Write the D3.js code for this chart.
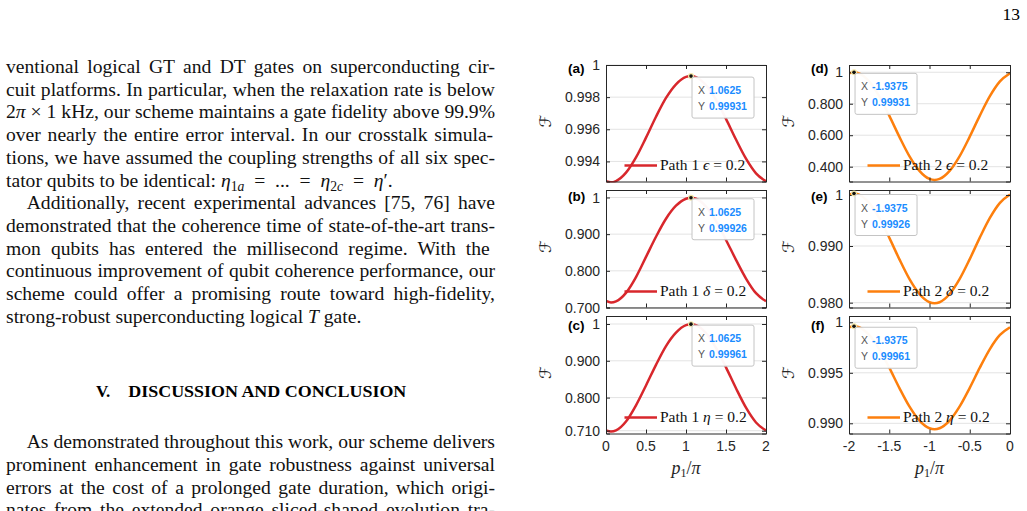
<!DOCTYPE html>
<html>
<head>
<meta charset="utf-8">
<script src="https://cdn.jsdelivr.net/npm/d3@7"></script>
<style>
  body { margin: 0; background: #fff; }
  svg { display: block; }
</style>
</head>
<body>
<div id="page"></div>
<script>
// values (F vs p1/pi)
var pRed = [0, 0.0625, 0.125, 0.25, 0.375, 0.5, 0.625, 0.75, 0.875, 1, 1.0625, 1.125, 1.25, 1.375, 1.5, 1.625, 1.75, 1.875, 2];
var pOrange = [-2, -1.9375, -1.875, -1.75, -1.625, -1.5, -1.375, -1.25, -1.125, -1, -0.9375, -0.875, -0.75, -0.625, -0.5, -0.375, -0.25, -0.125, 0];

var fidA = [0.99277, 0.99270, 0.99278, 0.99330, 0.99425, 0.99548, 0.99678, 0.99795, 0.99880, 0.99926, 0.99931, 0.99925, 0.99875, 0.99784, 0.99665, 0.99536, 0.99417, 0.99326, 0.99276];
var fidB = [0.7180, 0.7136, 0.7168, 0.7400, 0.7830, 0.8380, 0.8930, 0.9420, 0.9775, 0.9966, 0.99926, 0.9965, 0.9751, 0.9358, 0.8842, 0.8300, 0.7790, 0.7390, 0.7170];
var fidC = [0.7105, 0.7077, 0.7108, 0.7350, 0.7790, 0.8330, 0.8890, 0.9400, 0.9765, 0.9969, 0.99961, 0.9968, 0.9750, 0.9348, 0.8821, 0.8252, 0.7725, 0.7324, 0.7105];
var fidD = [0.99283, 0.99931, 0.99283, 0.94158, 0.84762, 0.72428, 0.59104, 0.46770, 0.37374, 0.32249, 0.3160, 0.32249, 0.37374, 0.46770, 0.59104, 0.72428, 0.84762, 0.94158, 0.99283];
var fidE = [0.99908, 0.99926, 0.99908, 0.99762, 0.99496, 0.99147, 0.98769, 0.98420, 0.98154, 0.98008, 0.97990, 0.98008, 0.98154, 0.98420, 0.98769, 0.99147, 0.99496, 0.99762, 0.99908];
var fidF = [0.99951, 0.99961, 0.99951, 0.99875, 0.99735, 0.99551, 0.99351, 0.99167, 0.99027, 0.98951, 0.98941, 0.98951, 0.99027, 0.99167, 0.99351, 0.99551, 0.99735, 0.99875, 0.99951];

// data tips
var tipX = [1.0625, 1.0625, 1.0625, -1.9375, -1.9375, -1.9375];
var tipY = [0.99931, 0.99926, 0.99961, 0.99931, 0.99926, 0.99961];
var tipXText = ["1.0625", "1.0625", "1.0625", "-1.9375", "-1.9375", "-1.9375"];
var tipYText = ["0.99931", "0.99926", "0.99961", "0.99931", "0.99926", "0.99961"];

// ticks
var xTicksRed = [0, 0.5, 1, 1.5, 2];
var xTicksOrange = [-2, -1.5, -1, -0.5, 0];
var xTickLabelsRed = ["0", "0.5", "1", "1.5", "2"];
var xTickLabelsOrange = ["-2", "-1.5", "-1", "-0.5", "0"];
var yTicksA = [0.994, 0.996, 0.998, 1], yLabelsA = ["0.994", "0.996", "0.998", "1"];
var yTicksB = [0.7, 0.8, 0.9, 1], yLabelsB = ["0.700", "0.800", "0.900", "1"];
var yTicksC = [0.71, 0.8, 0.9, 1], yLabelsC = ["0.710", "0.800", "0.900", "1"];
var yTicksD = [0.4, 0.6, 0.8, 1], yLabelsD = ["0.400", "0.600", "0.800", "1"];
var yTicksE = [0.98, 0.99, 0.999], yLabelsE = ["0.980", "0.990", "1"];
var yTicksF = [0.99, 0.995, 1], yLabelsF = ["0.990", "0.995", "1"];

var panelNames = ["(a)", "(b)", "(c)", "(d)", "(e)", "(f)"];
var pathNames = ["Path 1", "Path 1", "Path 1", "Path 2", "Path 2", "Path 2"];
var errorSymbols = ["ϵ", "δ", "η", "ϵ", "δ", "η"];
var errorValue = "0.2";

var red = "#d8272c", orange = "#fd7f0d";

var panels = [
    { col: 0, row: 0, x: pRed, y: fidA, dom: [0.99275, 1.0], ticks: yTicksA, labels: yLabelsA, color: red },
    { col: 0, row: 1, x: pRed, y: fidB, dom: [0.7, 1.0204], ticks: yTicksB, labels: yLabelsB, color: red },
    { col: 0, row: 2, x: pRed, y: fidC, dom: [0.7024, 1.0217], ticks: yTicksC, labels: yLabelsC, color: red },
    { col: 1, row: 0, x: pOrange, y: fidD, dom: [0.306, 1.046], ticks: yTicksD, labels: yLabelsD, color: orange },
    { col: 1, row: 1, x: pOrange, y: fidE, dom: [0.97915, 0.99988], ticks: yTicksE, labels: yLabelsE, color: orange },
    { col: 1, row: 2, x: pOrange, y: fidF, dom: [0.98899, 1.000624], ticks: yTicksF, labels: yLabelsF, color: orange }
];

var cols = [
    { x0: 606, x1: 766, dom: [0, 2], ticks: xTicksRed, labels: xTickLabelsRed },
    { x0: 849, x1: 1010, dom: [-2, 0], ticks: xTicksOrange, labels: xTickLabelsOrange }
];
var rows = [{ y0: 65, y1: 181.5, lab: 7.5 }, { y0: 190, y1: 307.5, lab: 10.5 }, { y0: 316, y1: 433.5, lab: 13.5 }];

var W = 1027, H = 511;
var svg = d3.select("#page").append("svg").attr("width", W).attr("height", H);
svg.append("rect").attr("width", W).attr("height", H).attr("fill", "#fff");

var serif = "'Liberation Serif', 'Times New Roman', serif";
var sans = "'Liberation Sans', Arial, Helvetica, sans-serif";
var axisColor = "#262626";

// page number
svg.append("text").attr("x", 1020).attr("y", 20).attr("text-anchor", "end")
    .attr("font-family", serif).attr("font-size", 17.5).text("13");

// ---------- body text ----------
var bodySize = 19.6;
var lines = [
    { x: 6, y: 73, j: true, parts: [["ventional logical GT and DT gates on superconducting cir-"]] },
    { x: 6, y: 95.7, j: true, parts: [["cuit platforms. In particular, when the relaxation rate is below"]] },
    { x: 6, y: 118.4, j: true, parts: [["2"], ["π", "i"], [" × 1 kHz, our scheme maintains a gate fidelity above 99.9%"]] },
    { x: 6, y: 141.1, j: true, parts: [["over nearly the entire error interval.  In our crosstalk simula-"]] },
    { x: 6, y: 163.8, j: true, parts: [["tions, we have assumed the coupling strengths of all six spec-"]] },
    { x: 6, y: 186.5, j: false, parts: [["tator qubits to be identical: "], ["η", "i"], ["1", "sub"], ["a", "subi"], ["\u2002=\u2002...\u2002=\u2002"], ["η", "i"], ["2", "sub"], ["c", "subi"], ["\u2002=\u2002"], ["η", "i"], ["′"], ["."]] },
    { x: 26.7, y: 209.2, j: true, parts: [["Additionally, recent experimental advances [75, 76] have"]] },
    { x: 6, y: 231.9, j: true, parts: [["demonstrated that the coherence time of state-of-the-art trans-"]] },
    { x: 6, y: 254.6, j: true, parts: [["mon qubits has entered the millisecond regime.  With the"]] },
    { x: 6, y: 277.3, j: true, parts: [["continuous improvement of qubit coherence performance, our"]] },
    { x: 6, y: 300, j: true, parts: [["scheme could offer a promising route toward high-fidelity,"]] },
    { x: 6, y: 322.7, j: false, parts: [["strong-robust superconducting logical "], ["T", "i"], [" gate."]] },
    { x: 26.7, y: 448.3, j: true, parts: [["As demonstrated throughout this work, our scheme delivers"]] },
    { x: 6, y: 471, j: true, parts: [["prominent enhancement in gate robustness against universal"]] },
    { x: 6, y: 493.7, j: true, parts: [["errors at the cost of a prolonged gate duration, which origi-"]] },
    { x: 6, y: 516.4, j: true, parts: [["nates from the extended orange sliced-shaped evolution tra-"]] }
];
var rightEdge = 495;

lines.forEach(function (ln) {
    var t = svg.append("text").attr("x", ln.x).attr("y", ln.y)
        .attr("font-family", serif).attr("font-size", bodySize).attr("fill", "#111");
    var shift = 0;
    ln.parts.forEach(function (p) {
        var s = t.append("tspan").text(p[0]);
        var style = p[1] || "";
        var want = (style == "sub" || style == "subi") ? 4 : 0;
        if (want != shift) { s.attr("dy", want - shift); shift = want; }
        if (style == "i" || style == "subi") s.attr("font-style", "italic");
        if (style == "sub" || style == "subi") s.attr("font-size", bodySize * 0.7);
    });
    if (ln.j) {
        var node = t.node();
        var natural = node.getComputedTextLength();
        var spaces = (node.textContent.match(/ /g) || []).length;
        if (spaces > 0) t.attr("word-spacing", (rightEdge - ln.x - natural) / spaces);
    }
});

// section heading
svg.append("text").attr("x", 96).attr("y", 397).attr("font-family", serif)
    .attr("font-weight", "bold").attr("font-size", 17).text("V.");
svg.append("text").attr("x", 128.3).attr("y", 397).attr("font-family", serif)
    .attr("font-weight", "bold").attr("font-size", 17)
    .attr("textLength", 278).attr("lengthAdjust", "spacingAndGlyphs")
    .text("DISCUSSION AND CONCLUSION");

// ---------- figure panels ----------
var line = d3.line().curve(d3.curveMonotoneX);

panels.forEach(function (pn, i) {
    var c = cols[pn.col], r = rows[pn.row];
    var x = d3.scaleLinear().domain(c.dom).range([c.x0, c.x1]);
    var y = d3.scaleLinear().domain(pn.dom).range([r.y1, r.y0]);
    var g = svg.append("g");

    g.append("defs").append("clipPath").attr("id", "clip" + i)
        .append("rect").attr("x", c.x0).attr("y", r.y0 - 1)
        .attr("width", c.x1 - c.x0).attr("height", r.y1 - r.y0 + 2);

    // horizontal grid
    g.selectAll(".grid").data(pn.ticks).enter().append("line")
        .attr("x1", c.x0).attr("x2", c.x1)
        .attr("y1", function (d) { return y(d); }).attr("y2", function (d) { return y(d); })
        .attr("stroke", "#e3e3e3").attr("stroke-width", 1);

    // curve
    var pts = pn.x.map(function (v, k) { return [x(v), y(pn.y[k])]; });
    g.append("path").attr("clip-path", "url(#clip" + i + ")")
        .attr("d", line(pts)).attr("fill", "none")
        .attr("stroke", pn.color).attr("stroke-width", 2.5);

    // axes on all four sides, ticks pointing inward
    g.append("g").attr("transform", "translate(0," + r.y1 + ")")
        .call(d3.axisTop(x).tickValues(c.ticks).tickSize(4).tickFormat(""));
    g.append("g").attr("transform", "translate(0," + r.y0 + ")")
        .call(d3.axisBottom(x).tickValues(c.ticks).tickSize(4).tickFormat(""));
    g.append("g").attr("transform", "translate(" + c.x0 + ",0)")
        .call(d3.axisRight(y).tickValues(pn.ticks).tickSize(4).tickFormat(""));
    g.append("g").attr("transform", "translate(" + c.x1 + ",0)")
        .call(d3.axisLeft(y).tickValues(pn.ticks).tickSize(4).tickFormat(""));
    g.selectAll(".domain").attr("stroke", axisColor).attr("stroke-width", 1);
    g.selectAll(".tick line").attr("stroke", axisColor);

    // y tick labels
    g.selectAll(".ylab").data(pn.ticks).enter().append("text")
        .attr("x", c.x0 - 6).attr("y", function (d) { return y(d); })
        .attr("dy", "0.36em").attr("text-anchor", "end")
        .attr("font-family", sans).attr("font-size", 14).attr("fill", axisColor)
        .text(function (d, k) { return pn.labels[k]; });

    // x tick labels + x label on the bottom row
    if (pn.row == 2) {
        g.selectAll(".xlab").data(c.ticks).enter().append("text")
            .attr("x", function (d) { return x(d); }).attr("y", r.y1 + 17.5)
            .attr("text-anchor", "middle")
            .attr("font-family", sans).attr("font-size", 14).attr("fill", axisColor)
            .text(function (d, k) { return c.labels[k]; });
        var xl = g.append("text").attr("x", (c.x0 + c.x1) / 2).attr("y", 473.5)
            .attr("text-anchor", "middle").attr("font-family", serif).attr("font-size", 18).attr("fill", axisColor);
        xl.append("tspan").attr("font-style", "italic").text("p");
        xl.append("tspan").attr("font-size", 12).attr("dy", 3).text("1");
        xl.append("tspan").attr("dy", -3).text("/");
        xl.append("tspan").attr("font-style", "italic").text("π");
    }

    // y label
    var ym = (r.y0 + r.y1) / 2 - 2;
    g.append("text").attr("transform", "translate(" + (c.x0 - 61) + "," + ym + ") rotate(-90)")
        .attr("text-anchor", "middle").attr("dy", "0.35em")
        .attr("font-family", "'DejaVu Sans', sans-serif")
        .attr("font-size", 16).attr("fill", axisColor).text("ℱ");

    // panel letter
    g.append("text").attr("x", c.x0 - 38).attr("y", r.y0 + r.lab)
        .attr("font-family", sans).attr("font-weight", "bold").attr("font-size", 13.5)
        .attr("fill", "#000").text(panelNames[i]);

    // legend
    var ly = r.y1 - 16;
    g.append("line").attr("x1", c.x0 + 18.5).attr("x2", c.x0 + 51)
        .attr("y1", ly).attr("y2", ly).attr("stroke", pn.color).attr("stroke-width", 2.5);
    var lt = g.append("text").attr("x", c.x0 + 54).attr("y", ly + 4.5)
        .attr("font-family", serif).attr("font-size", 15.5).attr("fill", "#111");
    lt.append("tspan").text(pathNames[i] + " ");
    lt.append("tspan").attr("font-style", "italic").text(errorSymbols[i]);
    lt.append("tspan").text(" = " + errorValue);

    // data tip
    var mx = x(tipX[i]), my = y(tipY[i]);
    g.append("circle").attr("cx", mx).attr("cy", my).attr("r", 3).attr("fill", "#f3e6a6");
    g.append("circle").attr("cx", mx).attr("cy", my).attr("r", 1.8).attr("fill", "#111");
    var bx = mx + 1, by = my + 1;
    g.append("rect").attr("x", bx).attr("y", by).attr("width", 62).attr("height", 41)
        .attr("rx", 2).attr("fill", "#fff").attr("fill-opacity", 0.96)
        .attr("stroke", "#c4c4c4").attr("stroke-width", 1);
    [["X", tipXText[i], 17], ["Y", tipYText[i], 33]].forEach(function (row) {
        g.append("text").attr("x", bx + 6).attr("y", by + row[2])
            .attr("font-family", sans).attr("font-size", 10.5).attr("fill", "#555").text(row[0]);
        g.append("text").attr("x", bx + 17).attr("y", by + row[2])
            .attr("font-family", sans).attr("font-size", 10.5).attr("font-weight", "bold")
            .attr("fill", "#1a8cff").text(row[1]);
    });
});
</script>
</body>
</html>
